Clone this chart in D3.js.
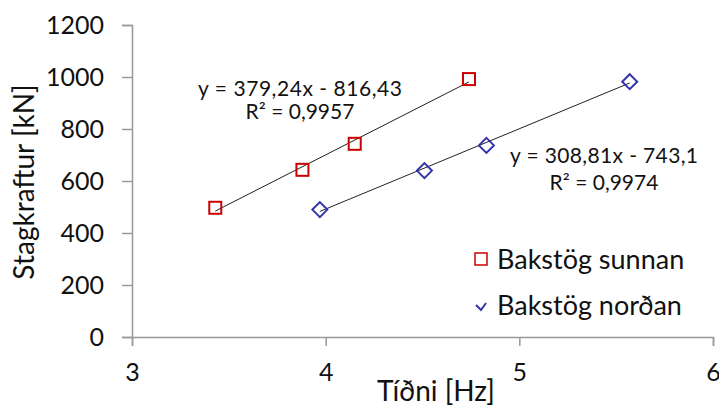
<!DOCTYPE html>
<html>
<head>
<meta charset="utf-8">
<script src="https://cdn.jsdelivr.net/npm/d3@7"></script>
<style>
  body { margin: 0; background: #fff; }
  svg text { font-family: Lato, "Open Sans", sans-serif; fill: #111; }
</style>
</head>
<body>
<div id="chart"></div>
<script>
// data
var sunnanX = [3.43, 3.88, 4.15, 4.74];
var sunnanY = [497, 643, 743, 992];
var nordanX = [3.97, 4.51, 4.83, 5.57];
var nordanY = [490, 640, 737, 982];
var xTicks = [3, 4, 5, 6];
var yTicks = [0, 200, 400, 600, 800, 1000, 1200];
var seriesNames = ["Bakstög sunnan", "Bakstög norðan"];
var fitSunnan = [379.24, -816.43];
var fitNordan = [308.81, -743.1];

var width = 719, height = 408;

var svg = d3.select("#chart").append("svg")
    .attr("width", width)
    .attr("height", height);

var x = d3.scaleLinear().domain([3, 6]).range([132, 713]);
var y = d3.scaleLinear().domain([0, 1200]).range([337, 25]);

// axes
var yAxis = d3.axisLeft(y).tickValues(yTicks).tickFormat(d3.format("d"))
    .tickSize(10).tickPadding(18);
var xAxis = d3.axisBottom(x).tickValues(xTicks).tickFormat(d3.format("d"))
    .tickSize(9).tickPadding(17);

var gy = svg.append("g").attr("transform", "translate(" + x(3) + ",0)").call(yAxis);
var gx = svg.append("g").attr("transform", "translate(0," + y(0) + ")").call(xAxis);

[gx, gy].forEach(function(g) {
    g.select(".domain").attr("stroke", "#999").attr("stroke-width", 1.5);
    g.selectAll(".tick line").attr("stroke", "#999").attr("stroke-width", 1.5);
    g.selectAll(".tick text")
        .style("font-family", "Lato, sans-serif")
        .style("font-size", "25px")
        .attr("fill", "#111");
});
gx.selectAll(".tick text").attr("dy", "0.71em");

// trend lines
function trend(xs, fit) {
    var x0 = d3.min(xs), x1 = d3.max(xs);
    return [[x0, fit[0] * x0 + fit[1]], [x1, fit[0] * x1 + fit[1]]];
}
var line = d3.line()
    .x(function(d) { return x(d[0]); })
    .y(function(d) { return y(d[1]); });

svg.append("path").attr("d", line(trend(sunnanX, fitSunnan)))
    .attr("stroke", "#222").attr("stroke-width", 1).attr("fill", "none");
svg.append("path").attr("d", line(trend(nordanX, fitNordan)))
    .attr("stroke", "#222").attr("stroke-width", 1).attr("fill", "none");

// markers
var red = "#cc0000", blue = "#3333aa";
var ms = 12;

svg.append("g").selectAll("rect")
    .data(d3.zip(sunnanX, sunnanY))
    .enter().append("rect")
    .attr("x", function(d) { return x(d[0]) - ms / 2; })
    .attr("y", function(d) { return y(d[1]) - ms / 2; })
    .attr("width", ms).attr("height", ms)
    .attr("fill", "none").attr("stroke", red).attr("stroke-width", 2);

var diamond = function(cx, cy, r) {
    return "M" + cx + "," + (cy - r) + "L" + (cx + r) + "," + cy +
        "L" + cx + "," + (cy + r) + "L" + (cx - r) + "," + cy + "Z";
};
svg.append("g").selectAll("path")
    .data(d3.zip(nordanX, nordanY))
    .enter().append("path")
    .attr("d", function(d) { return diamond(x(d[0]), y(d[1]), 7.5); })
    .attr("fill", "none").attr("stroke", blue).attr("stroke-width", 2);

// equation labels
var eq = svg.append("g").style("font-size", "21px");
eq.append("text").attr("x", 300).attr("y", 96).attr("text-anchor", "middle")
    .attr("textLength", 204)
    .text("y = 379,24x - 816,43");
eq.append("text").attr("x", 300).attr("y", 119).attr("text-anchor", "middle")
    .text("R² = 0,9957");
eq.append("text").attr("x", 604).attr("y", 163).attr("text-anchor", "middle")
    .attr("textLength", 188)
    .text("y = 308,81x - 743,1");
eq.append("text").attr("x", 604).attr("y", 190).attr("text-anchor", "middle")
    .text("R² = 0,9974");

// legend
var leg = svg.append("g");
leg.append("rect").attr("x", 475).attr("y", 253).attr("width", 12).attr("height", 12)
    .attr("fill", "none").attr("stroke", red).attr("stroke-width", 1.5);
leg.append("path").attr("d", "M476,305L481,310L486,303")
    .attr("fill", "none").attr("stroke", blue).attr("stroke-width", 2);
leg.selectAll("text.leg")
    .data(seriesNames)
    .enter().append("text")
    .attr("class", "leg")
    .attr("x", 497)
    .attr("y", function(d, i) { return 260 + i * 46; })
    .attr("dy", "0.35em")
    .style("font-size", "27px")
    .text(function(d) { return d; });

// axis titles
svg.append("text")
    .attr("transform", "translate(34,182) rotate(-90)")
    .attr("text-anchor", "middle")
    .style("font-size", "28px")
    .text("Stagkraftur [kN]");
svg.append("text")
    .attr("x", 436).attr("y", 401)
    .attr("text-anchor", "middle")
    .style("font-size", "28px")
    .text("Tíðni [Hz]");
</script>
</body>
</html>
